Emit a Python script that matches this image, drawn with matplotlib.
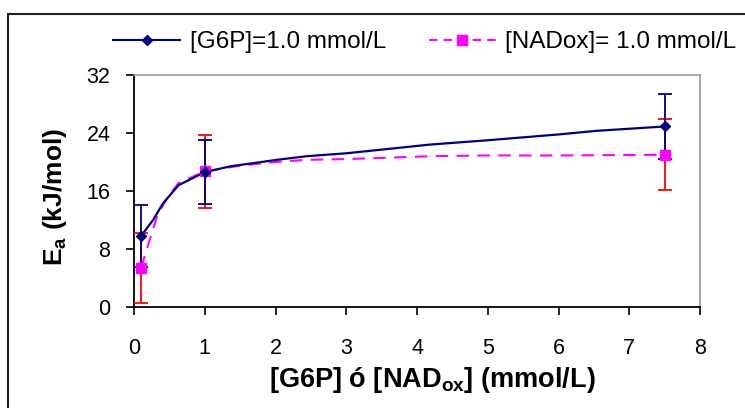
import matplotlib
matplotlib.use("Agg")
import matplotlib.pyplot as plt
from matplotlib.patches import Rectangle

plt.rcParams['font.family'] = ['Liberation Sans', 'DejaVu Sans']

# measured data points with error bars
x_pts = [0.1, 1.0, 7.5]
g6p_y = [9.8, 18.6, 24.9]
g6p_err = [4.3, 4.4, 4.5]
nad_y = [5.4, 18.7, 21.0]
nad_err = [4.8, 5.0, 4.9]

# fitted curves
g6p_cx = [0.1, 0.27, 0.41, 0.63, 1.0, 1.36, 2.02, 2.44, 3.0, 4.18, 5.0, 6.0, 6.54, 7.5]
g6p_cy = [9.8, 12.0, 14.3, 16.8, 18.6, 19.4, 20.3, 20.8, 21.2, 22.4, 23.0, 23.8, 24.3, 24.9]
nad_cx = [0.1, 0.2, 0.34, 0.5, 0.63, 1.0, 1.5, 2.0, 2.44, 3.0, 4.2, 5.0, 6.0, 7.5]
nad_cy = [5.4, 8.6, 12.9, 15.5, 17.1, 18.7, 19.5, 20.0, 20.3, 20.4, 20.8, 20.9, 20.9, 21.0]

xticks = [0, 1, 2, 3, 4, 5, 6, 7, 8]
yticks = [0, 8, 16, 24, 32]

BLUE = '#000080'
MAG = '#ff00ff'
RED = '#ff0000'

fig = plt.figure(figsize=(7.45, 4.08), dpi=100)
ax = fig.add_axes([134/745, 1 - 307/408, (700-134)/745, (307-75)/408])

# outer chart frame
fig.patches.append(Rectangle((8/745, -0.1), 1.2, 1 - 14/408 + 0.1, transform=fig.transFigure,
                             fill=False, edgecolor='#222222', linewidth=1.5, zorder=0))

ax.plot(g6p_cx, g6p_cy, color=BLUE, lw=1.6, zorder=3)
ax.plot(nad_cx, nad_cy, color=MAG, lw=1.5, ls=(0, (6, 4)), zorder=2)
ax.errorbar(x_pts, nad_y, yerr=nad_err, fmt='none', ecolor=RED, elinewidth=1.3, capsize=5, capthick=1.3, zorder=4)
ax.errorbar(x_pts, g6p_y, yerr=g6p_err, fmt='none', ecolor=BLUE, elinewidth=1.3, capsize=5, capthick=1.3, zorder=4)
ax.plot(x_pts, nad_y, ls='none', marker='s', ms=7, color=MAG, zorder=5)
ax.plot(x_pts, g6p_y, ls='none', marker='D', ms=5.5, color=BLUE, zorder=6)

# legend handles
l1, = ax.plot([], [], color=BLUE, lw=1.5, marker='D', ms=5.5)
l2, = ax.plot([], [], color=MAG, lw=1.5, ls=(0, (4, 3)), marker='s', ms=7)
fig.legend([l1, l2], ['[G6P]=1.0 mmol/L', '[NADox]= 1.0 mmol/L'], loc='center left',
           bbox_to_anchor=(113/745, 1 - 42/408), ncol=2, frameon=False, fontsize=17.5,
           handlelength=2.76, columnspacing=1.75, handletextpad=0.4,
           borderpad=0, borderaxespad=0)

ax.set_xlim(0, 8)
ax.set_ylim(0, 32)
ax.set_xticks(xticks)
ax.set_yticks(yticks)
ax.tick_params(direction='out', length=6, width=1.2, labelsize=15.5, colors='black')
ax.tick_params(axis='x', pad=16)
ax.tick_params(axis='y', pad=11)
for s in ['top', 'right']:
    ax.spines[s].set_color('#999999')
    ax.spines[s].set_linewidth(1.2)
for s in ['left', 'bottom']:
    ax.spines[s].set_color('black')
    ax.spines[s].set_linewidth(1.3)

ax.set_xlabel('[G6P] ó [NAD$_{\\mathregular{ox}}$] (mmol/L)', fontsize=19.5, fontweight='bold')
ax.set_ylabel('E$_{\\mathregular{a}}$ (kJ/mol)', fontsize=19, fontweight='bold')
ax.xaxis.set_label_coords((432-134)/566, (307-380)/232)
ax.yaxis.set_label_coords((55-134)/566, (307-197)/232)
ax.xaxis.label.set_va('center')
ax.yaxis.label.set_va('center')

fig.savefig('out.png', dpi=100)
